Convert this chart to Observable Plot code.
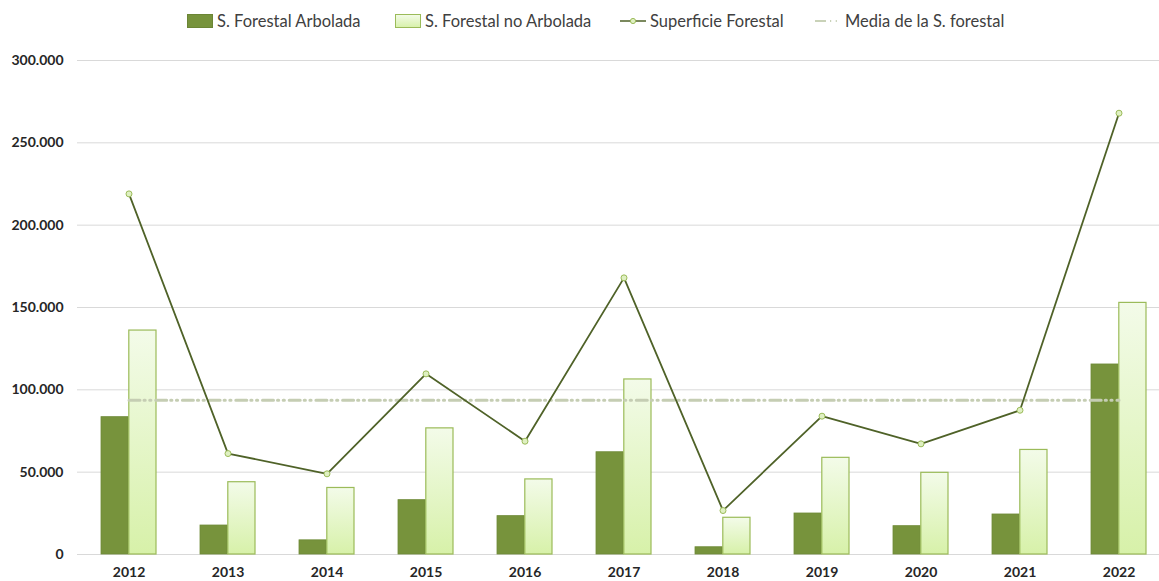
<!DOCTYPE html>
<html>
<head>
<meta charset="utf-8">
<script src="https://cdn.jsdelivr.net/npm/d3@7"></script>
<script src="https://cdn.jsdelivr.net/npm/@observablehq/plot@0.6"></script>
<style>
  html, body { margin: 0; padding: 0; background: #ffffff; }
  #wrap { position: relative; width: 1159px; height: 581px; font-family: Lato, "Open Sans", sans-serif; }
  #legend { position: relative; height: 40px; width: 1159px; }
  .item { position: absolute; top: 11px; display: flex; align-items: center; font-size: 16.5px; color: #404040; white-space: nowrap; }
  .item svg { margin-right: 4px; }
</style>
</head>
<body>
<div id="wrap">
  <div id="legend">
    <div class="item" style="left:187px"><svg width="26" height="14"><rect x="0.5" y="0.5" width="25" height="13" fill="#77933C" stroke="#6b8535"/></svg>S. Forestal Arbolada</div>
    <div class="item" style="left:395px"><svg width="26" height="14"><defs><linearGradient id="lg" x1="0" y1="0" x2="0" y2="1"><stop offset="0" stop-color="#f3fbe9"/><stop offset="1" stop-color="#d7f1a9"/></linearGradient></defs><rect x="0.5" y="0.5" width="25" height="13" fill="url(#lg)" stroke="#9bbb59"/></svg>S. Forestal no Arbolada</div>
    <div class="item" style="left:620px"><svg width="26" height="14"><line x1="0" y1="7" x2="26" y2="7" stroke="#4f6228" stroke-width="1.5"/><circle cx="13" cy="7" r="2.6" fill="#dff0c2" stroke="#9bbb59" stroke-width="1"/></svg>Superficie Forestal</div>
    <div class="item" style="left:815px"><svg width="26" height="14"><line x1="0" y1="7" x2="26" y2="7" stroke="#c9d2b8" stroke-width="2" stroke-dasharray="11,4,1.2,4.5,1.2,4.8"/></svg>Media de la S. forestal</div>
  </div>
  <div id="chart"></div>
</div>
<script>
const years = [2012, 2013, 2014, 2015, 2016, 2017, 2018, 2019, 2020, 2021, 2022];
const arbolada = [83400, 17600, 8600, 33000, 23300, 62100, 4400, 24900, 17200, 24300, 115400];
const noArbolada = [136000, 43900, 40400, 76600, 45600, 106300, 22300, 58700, 49600, 63500, 152800];
const superficie = [219000, 61300, 49000, 109700, 68800, 168000, 26700, 84000, 67200, 87600, 268000];
const media = 93700;
const yTicks = [0, 50000, 100000, 150000, 200000, 250000, 300000];

const es = d3.formatLocale({decimal: ",", thousands: ".", grouping: [3], currency: ["", " €"]});
const fmt = es.format(",d");

const rowsA = years.map((y, i) => ({year: y, v: arbolada[i]}));
const rowsN = years.map((y, i) => ({year: y, v: noArbolada[i]}));
const rowsT = years.map((y, i) => ({year: y, v: superficie[i]}));
const rowsM = years.map(y => ({year: y, v: media}));

const half = 27.8;

const chart = Plot.plot({
  width: 1159,
  height: 541,
  marginLeft: 77,
  marginRight: 0,
  marginTop: 20,
  marginBottom: 27,
  style: {fontFamily: "Lato, 'Open Sans', sans-serif", background: "transparent"},
  x: {type: "band", domain: years, range: [56.3, 1191.5], padding: 0.44, label: null},
  y: {domain: [0, 300000], label: null},
  marks: [
    Plot.gridY(yTicks, {stroke: "#d9d9d9", strokeOpacity: 1, strokeWidth: 1}),
    Plot.barY(rowsA, {x: "year", y: "v", fill: "#77933C", stroke: "#6f8a38", strokeWidth: 0.8, insetRight: half}),
    Plot.barY(rowsN, {x: "year", y: "v", fill: "url(#gradN)", stroke: "#9bbb59", strokeWidth: 1.2, insetLeft: half}),
    Plot.line(rowsM, {x: "year", y: "v", stroke: "#c5cdb3", strokeWidth: 3, strokeDasharray: "11,4,1.2,4.5,1.2,4.8"}),
    Plot.line(rowsT, {x: "year", y: "v", stroke: "#4f6228", strokeWidth: 1.8}),
    Plot.dot(rowsT, {x: "year", y: "v", r: 3, fill: "#dff0c2", stroke: "#9bbb59", strokeWidth: 1}),
    Plot.axisY(yTicks, {tickFormat: fmt, tickSize: 0, tickPadding: 14, fontSize: 14, fontWeight: "bold", fill: "#262626", label: null}),
    Plot.axisX({tickSize: 0, tickPadding: 13, fontSize: 14, fontWeight: "bold", fill: "#262626", label: null, tickFormat: d => String(d)})
  ]
});

const svg = d3.select(chart);
const defs = svg.insert("defs", ":first-child");
const g = defs.append("linearGradient").attr("id", "gradN").attr("x1", 0).attr("y1", 0).attr("x2", 0).attr("y2", 1);
g.append("stop").attr("offset", 0).attr("stop-color", "#f3fbe9");
g.append("stop").attr("offset", 1).attr("stop-color", "#d7f1a9");

document.getElementById("chart").appendChild(chart);
</script>
</body>
</html>
